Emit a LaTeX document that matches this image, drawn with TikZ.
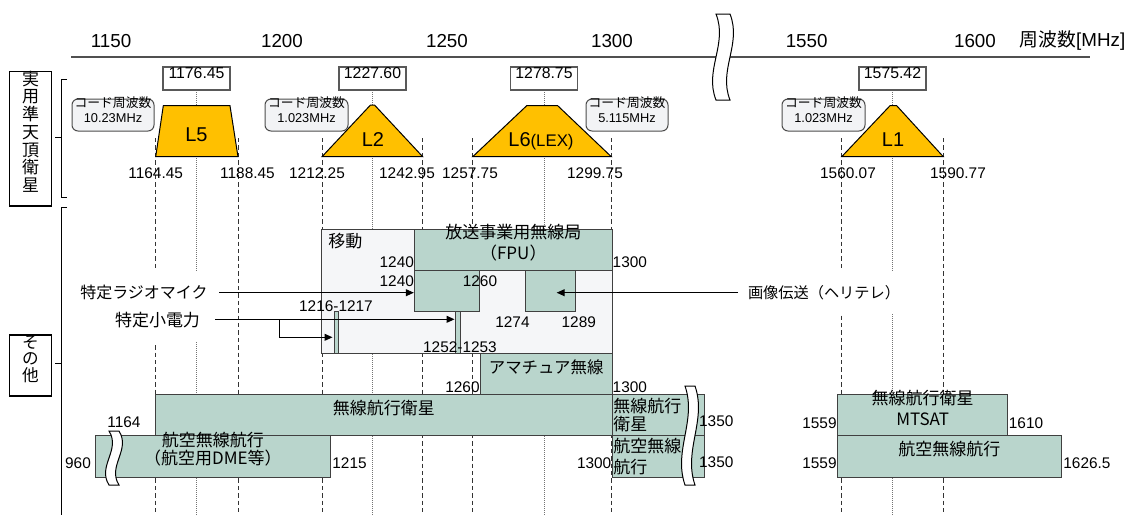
\documentclass[tikz,border=0pt]{standalone}
\usepackage{fontspec}
\setmainfont{Liberation Sans}
\newfontfamily\jp{Noto Sans CJK JP}
\usetikzlibrary{fit,arrows.meta}
\definecolor{gold}{HTML}{FFC000}
\definecolor{bandteal}{HTML}{B9D5CC}
\definecolor{mobilefill}{HTML}{F5F6F8}
\definecolor{codefill}{HTML}{F2F3F5}
\definecolor{axisgray}{HTML}{505050}
\newcommand\setfs[2]{\fontsize{#1}{#2}\selectfont}
\newcommand\brkshape[4]{\path[brk] (#1,#2) .. controls ({#1+12},{#2+0.35*(#3-#2)}) and ({#1-12},{#2+0.65*(#3-#2)}) .. (#1,#3) -- ({#1+#4},#3) .. controls ({#1+#4-12},{#2+0.65*(#3-#2)}) and ({#1+#4+12},{#2+0.35*(#3-#2)}) .. ({#1+#4},#2) -- cycle;}
\tikzset{
  band/.style={draw=black!75, fill=bandteal, line width=0.5pt, inner sep=0pt},
  mobilebox/.style={draw=black!75, fill=mobilefill, line width=0.5pt, inner sep=0pt},
  freqbox/.style={draw=black!65, fill=white, line width=0.6pt, inner sep=0pt, font=\setfs{7.9}{9}},
  codebox/.style={draw=black!70, fill=codefill, rounded corners=3pt, line width=0.5pt, inner sep=0pt, align=center, font=\setfs{6.4}{7.5}},
  sig/.style={draw=black, fill=gold, line width=0.5pt},
  edgeline/.style={dash pattern=on 2.2pt off 1.5pt, line width=0.5pt, black!80},
  centerline/.style={dash pattern=on 0.5pt off 0.5pt, line width=0.5pt, black!55},
  num/.style={font=\setfs{7.7}{9}, inner sep=0pt},
  axnum/.style={font=\setfs{9.4}{11}, inner sep=0pt},
  jlab/.style={font={\jp\setfs{8.5}{10}}, inner sep=0pt},
  arr/.style={-{Triangle[length=4pt,width=3.5pt]}, line width=0.5pt},
  catbox/.style={draw=black, line width=0.6pt, fill=white, inner sep=0pt, align=center, font={\jp\setfs{8.5}{8.85}}},
  brk/.style={draw=black, fill=white, line width=0.5pt},
  siglab/.style={font=\setfs{10}{12}, inner sep=0pt},
}
\begin{document}
\begin{tikzpicture}[x=0.5pt,y=-0.5pt]
\useasboundingbox (0,0) rectangle (1132,515);

% axis
\draw[axisgray, line width=1pt] (71,57.3) -- (1090,57.3);
\brkshape{716}{14}{100}{14}
\node[axnum] (a1150) at (111,41) {1150};
\node[axnum] (a1200) at (282,41) {1200};
\node[axnum] (a1250) at (447,41) {1250};
\node[axnum] (a1300) at (612,41) {1300};
\node[axnum] (a1550) at (806.7,41) {1550};
\node[axnum] (a1600) at (975,41) {1600};
\node[axnum] (aunit) at (1072.5,41) {{\jp 周波数}[MHz]};

% vertical guide lines
\foreach \xx in {155.7,238,322,422.7,472.7,611.3,841.7,943.3}
  \draw[edgeline] (\xx,138) -- (\xx,515);
\foreach \xx in {196.5,372.5,544,892.7}
  \draw[centerline] (\xx,90) -- (\xx,515);

% category boxes and brackets
\node[catbox, fit={(9.3,71.7)(51.7,206)}] (catq) {実\\用\\準\\天\\頂\\衛\\星};
\node[catbox, fit={(9.3,335)(51.7,396)}, font={\jp\setfs{8.3}{8.3}}] (cato) {そ\\の\\他};
\draw[line width=0.5pt] (67,79) -- (61.7,79) -- (61.7,197.3) -- (67,197.3);
\draw[line width=0.5pt] (61.7,137.3) -- (55,137.3);
\draw[line width=0.5pt] (67,207.3) -- (61.7,207.3) -- (61.7,515);
\draw[line width=0.5pt] (61.7,363.3) -- (55,363.3);

% signals
\draw[sig] (155.7,156.7) -- (163.3,105.7) -- (230,105.7) -- (238,156.7) -- cycle;
\draw[sig] (322,156.7) -- (370.5,105) -- (374.5,105) -- (422.7,156.7) -- cycle;
\draw[sig] (472.7,156.7) -- (526.7,105.7) -- (557.7,105.7) -- (611.3,156.7) -- cycle;
\draw[sig] (841.7,156.7) -- (890,105.7) -- (896.7,105.7) -- (943.3,156.7) -- cycle;
\node[siglab] (l5) at (196.5,134.5) {L5};
\node[siglab] (l2) at (373,139.5) {L2};
\node[siglab] (l6) at (541,141) {L6{\setfs{8.4}{10}(LEX)}};
\node[siglab] (l1) at (893,140) {L1};

% center frequency boxes
\node[freqbox, fit={(163,67)(230,90)}] (f5) {1176.45};
\node[freqbox, fit={(339,67)(406,90)}] (f2) {1227.60};
\node[freqbox, fit={(510.7,67)(577.3,90)}] (f6) {1278.75};
\node[freqbox, fit={(859,67)(926,90)}] (f1) {1575.42};

% code frequency boxes
\node[codebox, fit={(72,99)(154,131)}] (c5) {{\jp コード周波数}\\10.23MHz};
\node[codebox, fit={(265,99)(348,131)}] (c2) {{\jp コード周波数}\\1.023MHz};
\node[codebox, fit={(586,99)(668,131)}] (c6) {{\jp コード周波数}\\5.115MHz};
\node[codebox, fit={(782,99)(865,131)}] (c1) {{\jp コード周波数}\\1.023MHz};

% band edge labels
\node[num] (e1) at (155.7,173) {1164.45};
\node[num] (e2) at (247.5,173) {1188.45};
\node[num] (e3) at (317,173) {1212.25};
\node[num] (e4) at (407,173) {1242.95};
\node[num] (e5) at (470,173) {1257.75};
\node[num] (e6) at (595,173) {1299.75};
\node[num] (e7) at (848,173) {1560.07};
\node[num] (e8) at (958,173) {1590.77};

% mobile area
\node[mobilebox, fit={(321.7,229.3)(612.3,353.3)}] (mobile) {};
\node[jlab, anchor=west] (mobl) at (328,241) {移動};
\node[band, fit={(414.3,229.3)(612.3,270.3)}, align=center, font={\jp\setfs{8.5}{10.5}}] (fpu) {放送事業用無線局\\（FPU）};
\node[band, fit={(414.3,270.3)(479.3,311)}] (mic) {};
\node[band, fit={(525.3,270.3)(575,311)}] (heli) {};
\node[band, fit={(334,311.7)(338.3,353.3)}] (b1) {};
\node[band, fit={(455,311)(460,353.3)}] (b2) {};
\node[num, anchor=east] (n1240a) at (414.3,262.5) {1240};
\node[num, anchor=east] (n1240b) at (414.3,281) {1240};
\node[num, anchor=west] (n1300a) at (612.3,262.5) {1300};
\node[num] (n1260a) at (480,281) {1260};
\node[num] (n1274) at (512.5,322.5) {1274};
\node[num] (n1289) at (578.8,322.5) {1289};
\node[num] (n1216) at (336,306) {1216-1217};
\node[num] (n1252) at (460,347.5) {1252-1253};

% amateur
\node[band, fit={(480,353.3)(612.3,394.3)}, font={\jp\setfs{8.2}{10}}] (ama) {アマチュア無線};
\node[num, anchor=east] (n1260b) at (480,387) {1260};
\node[num, anchor=west] (n1300b) at (612.3,387) {1300};

% radio navigation satellite
\node[band, fit={(155.7,394.3)(612.3,435.7)}, font={\jp\setfs{8.5}{10}}] (rns) {無線航行衛星};
\node[band, fit={(612.3,394.3)(704,435.7)}] (rns2) {};
\node[jlab, anchor=west, align=left, font={\jp\setfs{8.5}{9}}] (rns2t) at (613,415) {無線航行\\衛星};
\node[num] (n1164) at (124,422.5) {1164};

% aeronautical radio navigation
\node[band, fit={(95.7,435.7)(330,477.3)}, align=center, font={\jp\setfs{8.5}{9.25}}] (arn) {航空無線航行\\（航空用DME等）};
\node[band, fit={(612.3,435.7)(704,477.3)}] (arn2) {};
\node[jlab, anchor=west, align=left, font={\jp\setfs{8.5}{10.5}}] (arn2t) at (613,457) {航空無線\\航行};
\node[num] (n960) at (78,463) {960};
\node[num, anchor=west] (n1215) at (332,463) {1215};
\node[num, anchor=east] (n1300c) at (611.7,463) {1300};
\node[num] (n1350a) at (716.3,421.5) {1350};
\node[num] (n1350b) at (716.3,462.5) {1350};
\brkshape{685}{386}{485}{10}
\brkshape{109}{431}{485}{10}

% L1 region bands
\node[band, fit={(837.7,394.3)(1007.7,435.7)}, align=center, font={\jp\setfs{8.5}{10.5}}] (mtsat) {無線航行衛星\\MTSAT};
\node[band, fit={(837.7,435.7)(1061,477.3)}, font={\jp\setfs{8.5}{10}}] (arnR) {航空無線航行};
\node[num, anchor=east] (n1559a) at (837,423) {1559};
\node[num, anchor=east] (n1559b) at (837,463) {1559};
\node[num, anchor=west] (n1610) at (1008.5,423) {1610};
\node[num, anchor=west] (n1626) at (1063,463) {1626.5};

% labels with arrows
\node[jlab, fill=white, inner xsep=2pt, inner ysep=7pt, font={\jp\setfs{8}{10}}] (rm) at (144,292) {特定ラジオマイク};
\node[jlab, fill=white, inner xsep=2pt, inner ysep=7pt] (sp) at (157.5,320.5) {特定小電力};
\node[jlab, fill=white, inner xsep=2pt, inner ysep=7pt, font={\jp\setfs{7.6}{10}}] (hl) at (824,292.7) {画像伝送（ヘリテレ）};
\coordinate (rmS) at (219,292.7);
\coordinate (spS) at (215,319.3);
\coordinate (spBr) at (279.3,319.3);
\coordinate (b1in) at (332.5,337.3);
\coordinate (hlS) at (738,292.7);
\coordinate (hlT) at (556.7,292.7);
\draw[arr] (rmS) -- (rmS -| mic.west);
\draw[arr] (spS) -- (spS -| b2.west);
\draw[arr] (spBr) |- (b1in);
\draw[arr] (hlS) -- (hlT);
\end{tikzpicture}
\end{document}
